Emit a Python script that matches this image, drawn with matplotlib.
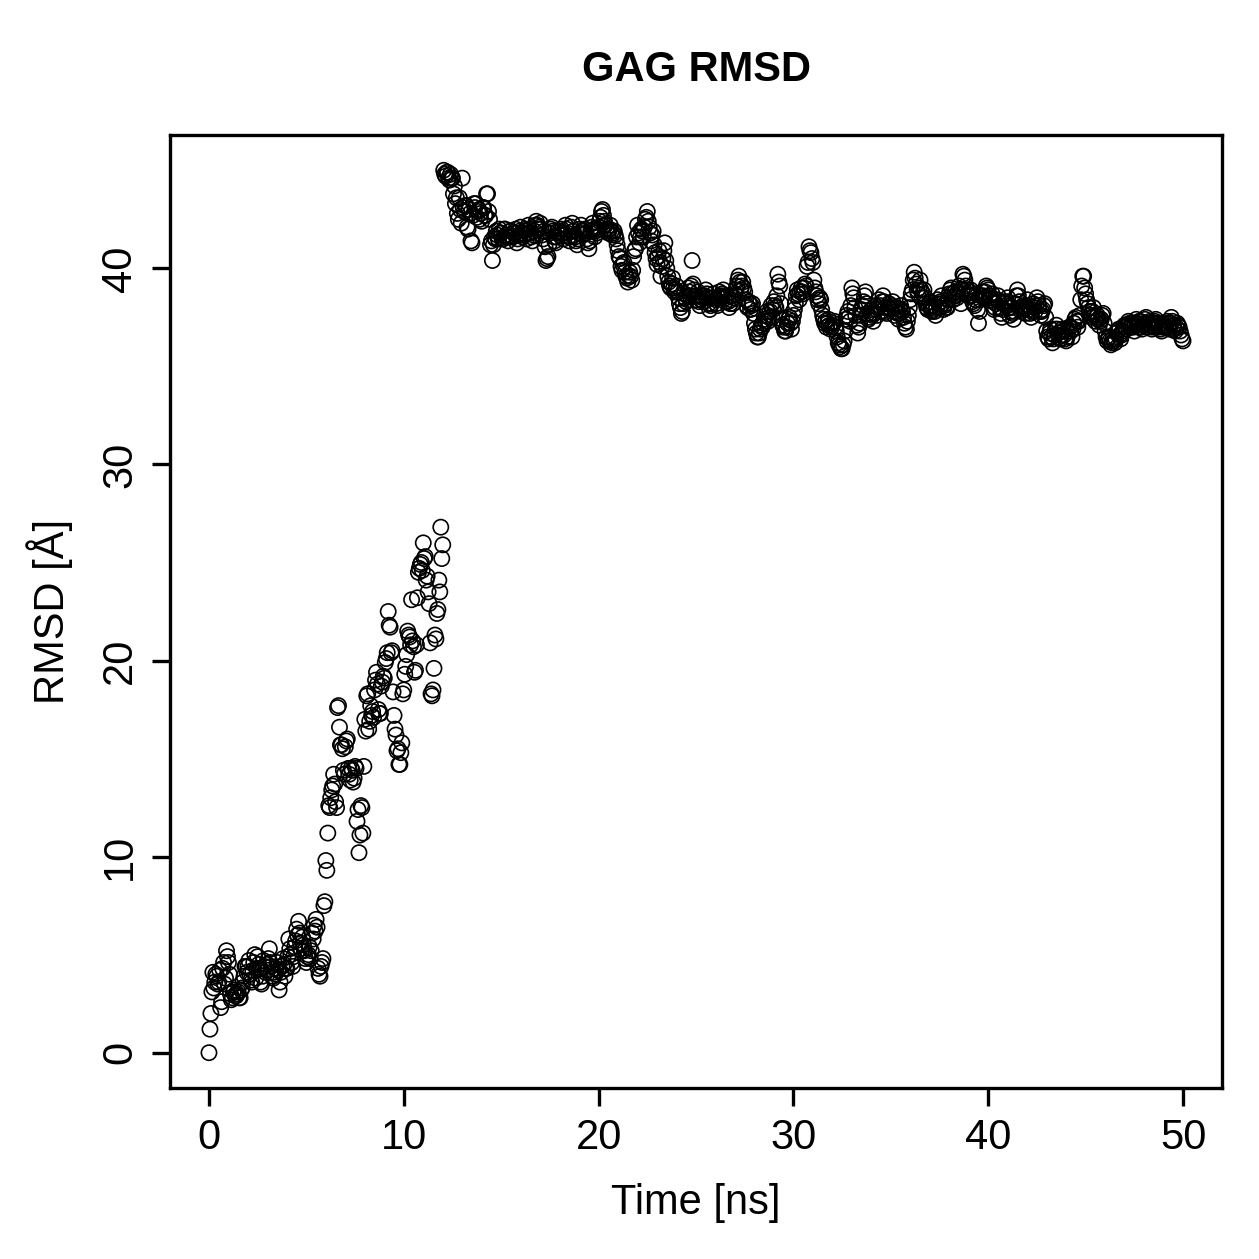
import numpy as np
import matplotlib
matplotlib.use("Agg")
import matplotlib.pyplot as plt

plt.rcParams['font.family'] = ['Liberation Sans', 'DejaVu Sans']

title = "GAG RMSD"
xlabel = "Time [ns]"
ylabel = "RMSD [Å]"
xticks = [0, 10, 20, 30, 40, 50]
yticks = [0, 10, 20, 30, 40]
time_step_ns = 0.05

# RMSD values, one row per 0.5 ns (10 frames of 0.05 ns each), last value at 50.0 ns
rmsd = [
    0.0, 1.2, 2.0, 3.1, 4.1, 3.3, 3.6, 4.0, 3.9, 3.5,
    3.6, 4.2, 2.3, 2.6, 4.3, 4.6, 3.5, 3.8, 5.2, 4.9,
    4.6, 4.0, 3.0, 2.7, 2.8, 3.1, 3.2, 2.9, 2.9, 3.0,
    3.1, 2.8, 2.8, 3.2, 3.3, 3.6, 3.9, 4.4, 4.4, 4.1,
    4.4, 4.7, 4.0, 3.7, 3.6, 4.2, 4.6, 5.0, 3.8, 4.3,
    4.9, 4.5, 4.3, 3.6, 3.5, 3.9, 4.7, 4.4, 4.1, 4.5,
    4.2, 4.8, 5.3, 4.6, 4.4, 3.9, 3.8, 4.1, 4.0, 4.3,
    4.6, 4.2, 3.2, 3.6, 4.1, 4.4, 4.8, 4.5, 3.9, 4.3,
    4.3, 4.9, 5.8, 5.3, 5.0, 4.6, 4.4, 4.9, 5.4, 5.7,
    6.3, 6.0, 6.7, 6.1, 5.6, 5.2, 5.9, 5.5, 5.2, 4.8,
    4.6, 4.9, 5.0, 5.4, 4.8, 5.2, 6.1, 5.8, 6.5, 6.2,
    6.8, 6.4, 4.3, 4.0, 3.9, 4.4, 4.6, 4.8, 7.5, 7.7,
    9.8, 9.3, 11.2, 12.6, 12.5, 13.0, 13.4, 13.6, 14.2, 13.7,
    12.8, 12.5, 17.6, 17.7, 16.6, 15.7, 15.7, 15.5, 14.4, 14.2,
    15.6, 15.9, 16.0, 14.5, 14.2, 13.9, 14.5, 14.4, 13.8, 14.0,
    14.6, 14.5, 11.8, 12.4, 10.2, 11.1, 12.6, 12.5, 11.2, 14.6,
    17.0, 16.4, 18.2, 18.3, 16.5, 16.9, 17.7, 17.2, 17.4, 17.1,
    18.5, 19.0, 19.4, 18.8, 17.5, 17.3, 17.3, 18.7, 18.9, 19.2,
    19.1, 19.9, 20.1, 20.4, 22.5, 21.8, 21.7, 20.4, 20.5, 18.4,
    17.2, 16.5, 16.2, 15.4, 15.5, 14.7, 14.7, 15.3, 15.8, 18.3,
    18.5, 19.3, 19.7, 20.3, 21.5, 21.3, 21.2, 20.8, 23.1, 21.0,
    20.7, 19.4, 19.5, 20.8, 23.2, 24.5, 24.7, 24.9, 25.0, 24.6,
    26.0, 25.2, 25.3, 24.1, 24.3, 23.5, 22.9, 20.9, 18.3, 18.2,
    18.5, 19.6, 21.3, 21.1, 22.4, 22.6, 24.1, 23.5, 26.8, 25.2,
    25.9, 45.0, 44.8, 44.7, 44.9, 44.9, 44.6, 44.5, 44.8, 44.6,
    44.6, 43.8, 44.2, 43.3, 43.6, 42.8, 42.5, 43.6, 43.0, 42.3,
    44.6, 43.1, 42.9, 43.2, 43.2, 42.1, 42.0, 43.0, 42.8, 41.4,
    41.3, 42.7, 43.3, 43.1, 43.3, 42.6, 42.9, 43.0, 42.5, 42.8,
    42.4, 43.1, 43.1, 42.7, 42.7, 43.8, 43.8, 42.9, 42.5, 41.2,
    41.4, 40.4, 41.2, 41.6, 41.5, 41.9, 41.7, 41.5, 42.0, 41.8,
    41.8, 41.5, 41.5, 42.0, 42.0, 41.7, 41.6, 41.4, 41.6, 41.9,
    41.9, 41.6, 41.6, 41.8, 41.8, 42.0, 41.3, 41.5, 41.7, 41.9,
    42.1, 41.8, 41.6, 41.7, 41.9, 42.0, 41.5, 41.8, 42.2, 42.0,
    41.8, 41.6, 41.4, 41.7, 41.9, 42.2, 42.4, 42.2, 42.0, 42.1,
    42.3, 42.0, 41.7, 41.5, 41.9, 41.1, 40.4, 40.5, 40.6, 41.2,
    41.8, 42.0, 42.1, 41.9, 41.6, 41.4, 41.3, 41.6, 41.9, 41.8,
    41.7, 41.9, 42.0, 41.8, 41.5, 41.7, 42.2, 42.0, 41.8, 41.6,
    41.4, 41.6, 42.1, 42.3, 41.9, 41.7, 41.6, 41.4, 41.2, 41.5,
    41.8, 42.0, 42.2, 41.9, 41.7, 41.9, 42.0, 41.8, 41.5, 41.3,
    41.0, 41.4, 41.9, 42.1, 42.3, 42.0, 41.6, 41.9, 41.8, 42.0,
    42.1, 42.4, 42.6, 42.9, 43.0, 42.7, 42.4, 42.2, 42.0, 41.9,
    41.8, 42.0, 42.2, 41.9, 41.7, 41.8, 41.9, 41.7, 41.5, 41.2,
    40.9, 40.6, 40.5, 40.1, 39.9, 40.2, 40.3, 39.8, 39.6, 39.5,
    39.3, 39.6, 39.8, 39.6, 39.4, 39.9, 40.6, 40.9, 41.0, 41.6,
    42.2, 41.8, 41.3, 41.6, 42.0, 41.9, 41.6, 42.1, 42.5, 42.6,
    42.9, 42.4, 42.1, 41.8, 41.4, 41.7, 41.9, 41.2, 40.8, 40.5,
    40.2, 40.6, 40.9, 40.3, 39.6, 40.1, 40.5, 40.9, 41.3, 40.4,
    40.0, 39.6, 39.3, 39.1, 39.0, 39.2, 39.5, 39.0, 38.8, 38.9,
    39.1, 38.8, 38.5, 38.2, 38.0, 37.7, 37.8, 38.2, 38.7, 38.5,
    38.3, 38.6, 39.0, 38.8, 38.6, 39.1, 40.4, 39.2, 38.9, 38.6,
    38.4, 38.6, 38.8, 38.3, 38.1, 38.4, 38.6, 38.5, 38.3, 38.6,
    38.9, 38.7, 38.5, 38.2, 37.9, 38.1, 38.2, 38.5, 38.7, 38.5,
    38.4, 38.2, 38.1, 38.5, 38.8, 38.6, 38.5, 38.7, 38.9, 38.6,
    38.3, 38.5, 38.6, 38.3, 38.0, 38.2, 38.4, 38.6, 38.2, 38.5,
    38.7, 38.9, 39.1, 39.4, 39.6, 39.3, 38.9, 39.1, 39.3, 39.0,
    38.8, 38.4, 38.1, 38.0, 38.3, 38.2, 37.9, 38.1, 38.2, 37.7,
    37.2, 36.9, 36.7, 36.5, 36.5, 36.7, 36.9, 37.1, 37.0, 37.2,
    37.4, 37.3, 37.6, 37.8, 37.3, 37.5, 37.8, 38.1, 37.5, 37.9,
    38.3, 38.1, 38.0, 38.6, 39.7, 39.3, 39.1, 38.2, 37.4, 37.1,
    37.0, 36.8, 36.8, 37.0, 37.2, 37.4, 37.5, 37.2, 36.9, 37.3,
    37.6, 37.9, 38.2, 38.6, 38.9, 38.7, 38.4, 38.8, 39.0, 38.8,
    38.7, 39.0, 39.2, 39.1, 40.1, 40.3, 41.1, 40.9, 40.8, 40.5,
    40.3, 39.4, 39.0, 38.8, 38.6, 38.4, 38.2, 38.5, 38.4, 37.9,
    37.6, 37.4, 37.2, 37.3, 37.0, 37.2, 37.4, 37.1, 36.9, 37.0,
    37.1, 37.2, 37.3, 37.0, 36.8, 36.5, 36.2, 36.1, 36.0, 35.9,
    35.9, 36.1, 36.3, 36.8, 37.4, 37.6, 37.8, 37.5, 37.3, 38.1,
    39.0, 38.7, 38.5, 38.0, 37.6, 37.1, 36.7, 37.0, 37.2, 37.6,
    37.9, 38.1, 38.3, 38.6, 38.8, 38.2, 37.7, 37.4, 37.5, 37.7,
    37.9, 37.6, 37.3, 37.7, 38.1, 37.9, 37.6, 38.0, 38.4, 38.1,
    37.8, 38.3, 38.6, 38.3, 38.0, 37.8, 37.7, 38.0, 38.2, 38.0,
    37.9, 38.1, 38.3, 38.0, 37.6, 37.8, 38.0, 37.7, 37.4, 37.7,
    38.1, 37.9, 37.8, 37.5, 37.2, 37.0, 36.9, 37.3, 37.6, 38.0,
    38.4, 38.7, 38.9, 39.4, 39.8, 39.5, 39.2, 38.9, 38.7, 39.0,
    39.4, 38.9, 38.5, 38.7, 38.9, 38.5, 38.2, 38.0, 37.9, 38.1,
    38.3, 38.0, 37.8, 37.9, 38.1, 37.8, 37.6, 38.0, 38.4, 38.2,
    38.0, 38.3, 38.6, 38.2, 37.9, 38.1, 38.2, 38.0, 38.0, 38.4,
    38.7, 38.9, 39.0, 38.7, 38.4, 38.6, 38.8, 38.6, 38.5, 38.8,
    39.1, 38.7, 38.2, 38.9, 39.7, 39.6, 39.4, 39.1, 38.9, 38.7,
    38.6, 38.8, 38.9, 38.6, 38.3, 38.2, 38.1, 38.4, 38.7, 37.9,
    37.2, 37.8, 38.4, 38.6, 38.8, 38.6, 38.5, 38.8, 39.1, 39.0,
    38.9, 38.6, 38.4, 38.5, 38.7, 38.3, 37.9, 38.0, 38.2, 38.4,
    38.6, 38.3, 38.0, 37.7, 37.5, 37.9, 38.3, 38.2, 38.1, 38.3,
    38.5, 38.0, 37.6, 37.8, 38.0, 37.7, 37.4, 37.8, 38.2, 38.6,
    38.9, 38.6, 38.3, 38.0, 37.8, 38.0, 38.1, 37.9, 37.7, 38.0,
    38.4, 38.1, 37.9, 37.7, 37.5, 37.8, 38.2, 38.0, 37.8, 38.1,
    38.5, 38.3, 38.1, 37.8, 37.6, 37.8, 37.9, 38.1, 38.2, 37.5,
    36.8, 36.5, 36.4, 36.7, 36.9, 36.5, 36.2, 36.4, 36.6, 36.9,
    37.1, 36.9, 36.7, 36.5, 36.4, 36.6, 36.9, 36.8, 36.6, 36.4,
    36.3, 36.5, 36.8, 37.0, 37.0, 36.8, 36.5, 36.9, 37.2, 37.4,
    37.5, 37.3, 37.0, 37.3, 37.6, 38.4, 39.1, 39.6, 39.6, 39.0,
    38.7, 38.4, 38.2, 38.0, 37.8, 37.6, 37.5, 37.8, 38.0, 37.6,
    37.3, 37.5, 37.6, 37.4, 37.1, 37.3, 37.4, 37.6, 37.7, 37.2,
    36.8, 36.5, 36.3, 36.4, 36.5, 36.3, 36.1, 36.2, 36.4, 36.3,
    36.2, 36.4, 36.7, 36.8, 36.9, 36.6, 36.4, 36.6, 36.8, 37.0,
    37.1, 37.0, 36.9, 37.1, 37.3, 37.2, 37.0, 37.1, 37.2, 37.0,
    36.8, 37.1, 37.4, 37.2, 37.1, 37.3, 37.3, 37.0, 36.9, 37.1,
    37.2, 37.4, 37.5, 37.2, 37.0, 37.2, 37.3, 37.1, 36.9, 37.0,
    37.2, 37.3, 37.4, 37.2, 37.0, 37.1, 37.1, 36.9, 36.8, 37.0,
    37.2, 37.1, 37.0, 37.2, 37.3, 37.0, 36.9, 37.2, 37.5, 37.3,
    37.1, 36.9, 36.8, 37.0, 37.2, 37.1, 37.0, 36.8, 36.6, 36.4,
    36.3,
]
time_ns = np.arange(len(rmsd)) * time_step_ns

W = H = 1259
fig = plt.figure(figsize=(W / 100, H / 100), dpi=100)
ax = fig.add_axes([170 / W, 1 - 1088 / H, (1222 - 170) / W, (1088 - 135) / H])

ax.scatter(time_ns, rmsd, s=120, facecolors='none', edgecolors='black', linewidths=1.2, zorder=3)

ax.set_xlim(-2.0, 52.0)
ax.set_ylim(-1.8, 46.8)
ax.set_xticks(xticks)
ax.set_yticks(yticks)
ax.set_xticklabels([str(v) for v in xticks])
ax.set_yticklabels([str(v) for v in yticks])

for sp in ax.spines.values():
    sp.set_linewidth(2.4)
ax.tick_params(axis='both', direction='out', length=13, width=2.4, labelsize=30, pad=8.6)
ax.tick_params(axis='y', labelrotation=90)
for lbl in ax.get_yticklabels():
    lbl.set_va('center')

ax.set_xlabel(xlabel, fontsize=30, va='center')
ax.xaxis.set_label_coords(0.5, (1088 - 1203) / 953)
ax.set_ylabel(ylabel, fontsize=30, va='center')
ax.yaxis.set_label_coords((50 - 170) / 1052, 0.5)

fig.text((170 + 1222) / 2 / W, 1 - 70 / H, title, fontsize=30, fontweight='bold', ha='center', va='center')

fig.savefig("out.png", dpi=100)
